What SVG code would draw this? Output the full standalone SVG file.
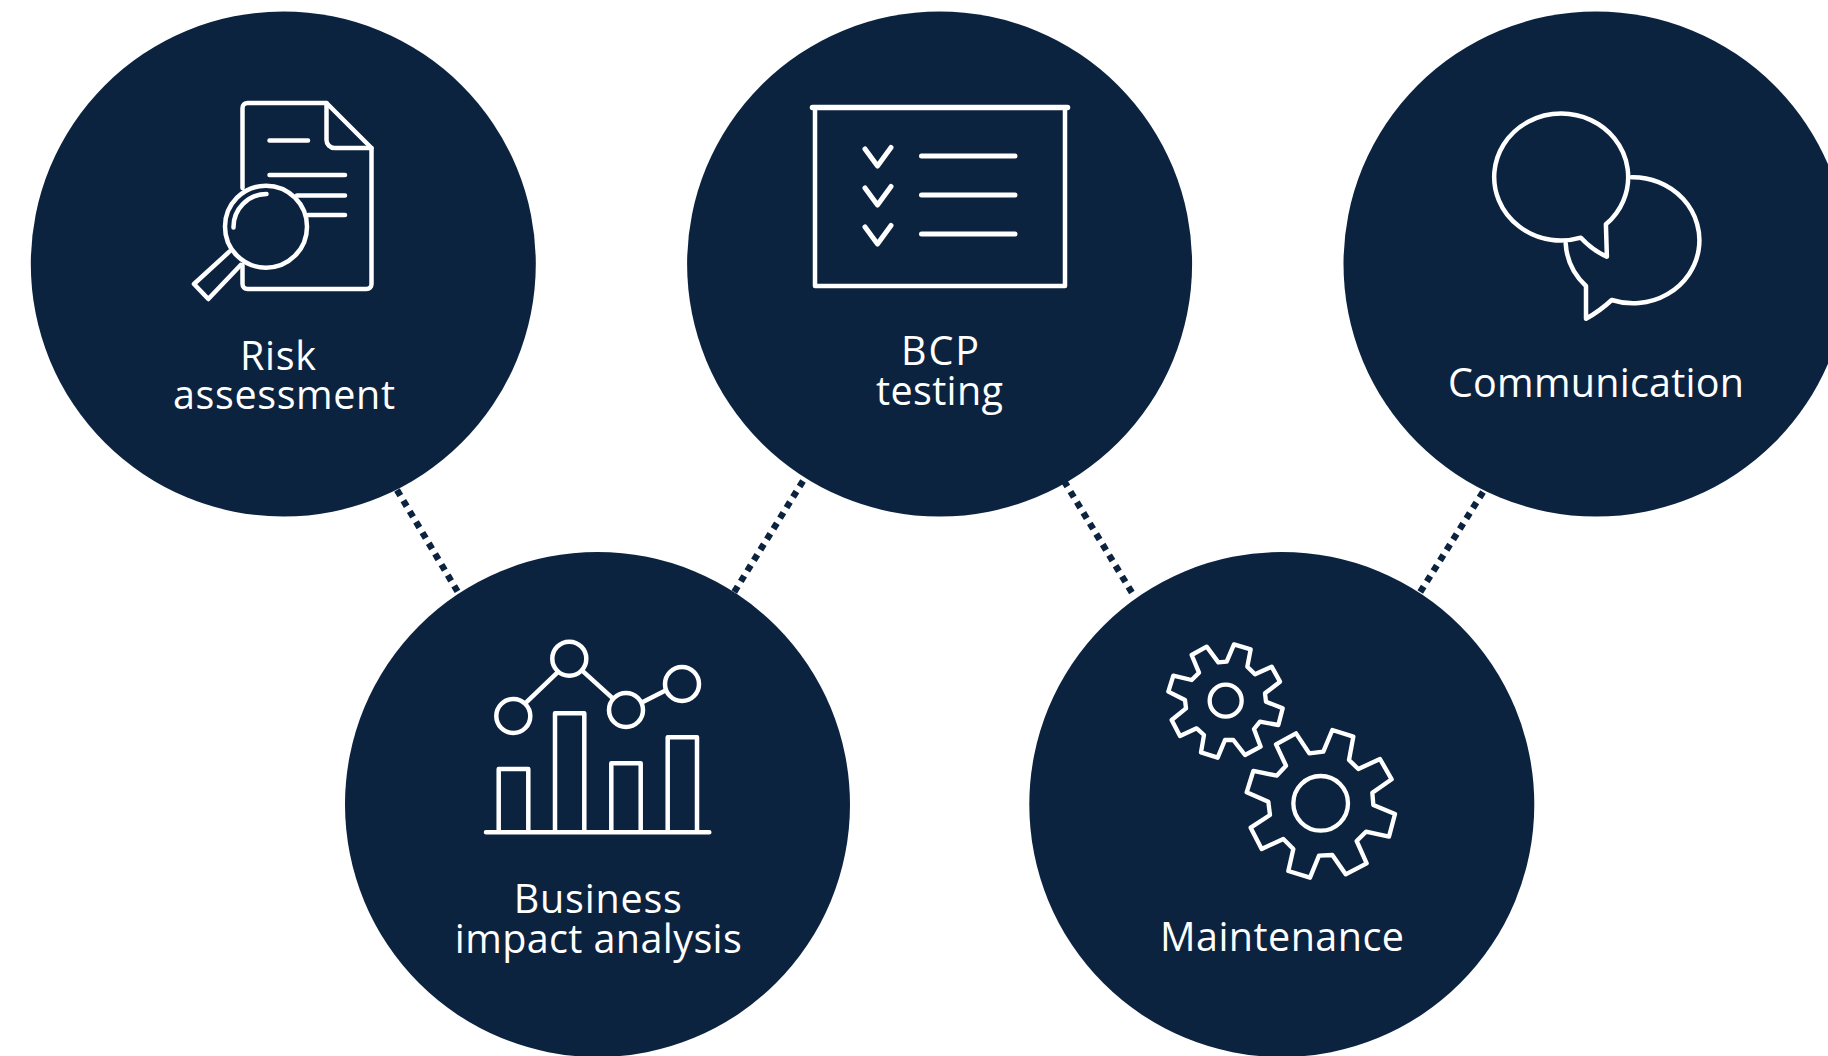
<svg xmlns="http://www.w3.org/2000/svg" width="1828" height="1056" viewBox="0 0 1828 1056">
<style>
.disc{fill:#0c2340}
.ico{fill:none;stroke:#fff;stroke-width:4.500;stroke-linecap:round;stroke-linejoin:round}
.lbl{fill:#fff;font-family:"Open Sans","Liberation Sans",sans-serif;font-size:39.500px;text-anchor:middle}
.dot{fill:none;stroke:#0c2340;stroke-width:6.500;stroke-dasharray:6.500 5.900}
</style>
<rect width="1828" height="1056" fill="#fff"/>
<g id="connectors">
<line class="dot" x1="397" y1="490" x2="459" y2="594"/>
<line class="dot" x1="803" y1="481" x2="733" y2="594"/>
<line class="dot" x1="1064" y1="481" x2="1134" y2="596"/>
<line class="dot" x1="1483" y1="492" x2="1419" y2="594"/>
</g>
<g id="risk-assessment">
<circle class="disc" cx="283.300" cy="264" r="252.500"/>
<path class="ico" d="M242.500 188V108a5 5 0 0 1 5-5H326.500L371.500 148V284a5 5 0 0 1-5 5H247.500a5 5 0 0 1-5-5V265"/>
<path class="ico" d="M326.500 103V140a8 8 0 0 0 8 8H371.500"/>
<path class="ico" d="M269.500 140.500H308M269.500 175H345M297 195.500H345M308 215H345"/>
<circle class="ico" cx="266" cy="226.700" r="41"/>
<path class="ico" d="M233.500 227.500A33 33 0 0 1 266.500 194"/>
<path class="ico" d="M229.300 251.700L194 284L208.300 299L240.700 265"/>
<text class="lbl" x="278" y="370" textLength="76">Risk</text>
<text class="lbl" x="284" y="409" textLength="222">assessment</text>
</g>
<g id="bcp-testing">
<circle class="disc" cx="939.600" cy="264" r="252.500"/>
<path class="ico" d="M815 107.500V286H1065V107.500"/>
<path class="ico" style="stroke-width:5.500" d="M812.500 107.500H1067.500"/>
<path class="ico" style="stroke-width:5" d="M865 149L877.500 166L891 147.500M865 188L877.500 205L891 186.500M865 227L877.500 244L891 225.500M921.500 156H1015M921.500 195H1015M921.500 234H1015"/>
<text class="lbl" x="940" y="365" textLength="78">BCP</text>
<text class="lbl" x="939.500" y="405" textLength="127">testing</text>
</g>
<g id="communication">
<circle class="disc" cx="1596" cy="264" r="252.500"/>
<path class="ico" d="M1581.700 236.700A67 63.500 0 1 1 1606.700 223.300L1607.700 255.700Q1593 249 1581.700 236.700Z" transform="translate(-.8 1)"/>
<path class="ico" d="M1631.700 177.300A66.500 63 0 1 1 1611.700 300Q1600 311 1586 318.700V286A67 64 0 0 1 1565.700 243.300"/>
<text class="lbl" x="1596" y="397" textLength="296">Communication</text>
</g>
<g id="business-impact-analysis">
<circle class="disc" cx="597.500" cy="804.500" r="252.500"/>
<path class="ico" d="M526 702.700L557.300 672.700M583.300 671.700L611.700 697.300M643.300 701.700L665 690.700"/>
<circle class="ico" cx="513.300" cy="716" r="17"/>
<circle class="ico" cx="569.300" cy="658.700" r="17"/>
<circle class="ico" cx="626" cy="710" r="17"/>
<circle class="ico" cx="682" cy="684" r="17"/>
<path class="ico" d="M498.700 832V769H528.300V832M555 832V713.300H584.300V832M611.300 832V763.300H640.700V832M667.700 832V737.300H697V832M486 832.300H709.300"/>
<text class="lbl" x="597.800" y="912.500" textLength="168">Business</text>
<text class="lbl" x="598.300" y="952.500" textLength="287">impact analysis</text>
</g>
<g id="maintenance">
<circle class="disc" cx="1281.800" cy="804.500" r="252.500"/>
<g transform="translate(1150 625) scale(.33333)">
<polygon class="ico" style="stroke-width:13" points="125,90 170,65 205,112 230,110 252,58 302,73 292,125 315,148 365,125 390,170 345,205 348,230 398,250 385,300 330,290 312,312 332,365 285,390 250,345 225,345 203,398 153,382 162,330 140,310 90,333 65,285 108,250 105,225 55,200 70,152 125,165 147,143"/>
<polygon class="ico" style="stroke-width:13" points="378,358 438,325 478,385 520,380 547,315 610,335 597,405 625,432 690,402 725,463 667,503 670,540 735,567 717,635 648,620 620,648 650,715 587,748 547,690 507,692 480,758 415,738 430,672 400,642 335,672 302,608 360,570 355,530 290,502 310,438 380,452 408,422"/>
<circle class="ico" style="stroke-width:13" cx="227" cy="227" r="48"/>
<circle class="ico" style="stroke-width:13" cx="512" cy="535" r="82"/>
</g>
<text class="lbl" x="1282" y="951" textLength="244">Maintenance</text>
</g>
</svg>
